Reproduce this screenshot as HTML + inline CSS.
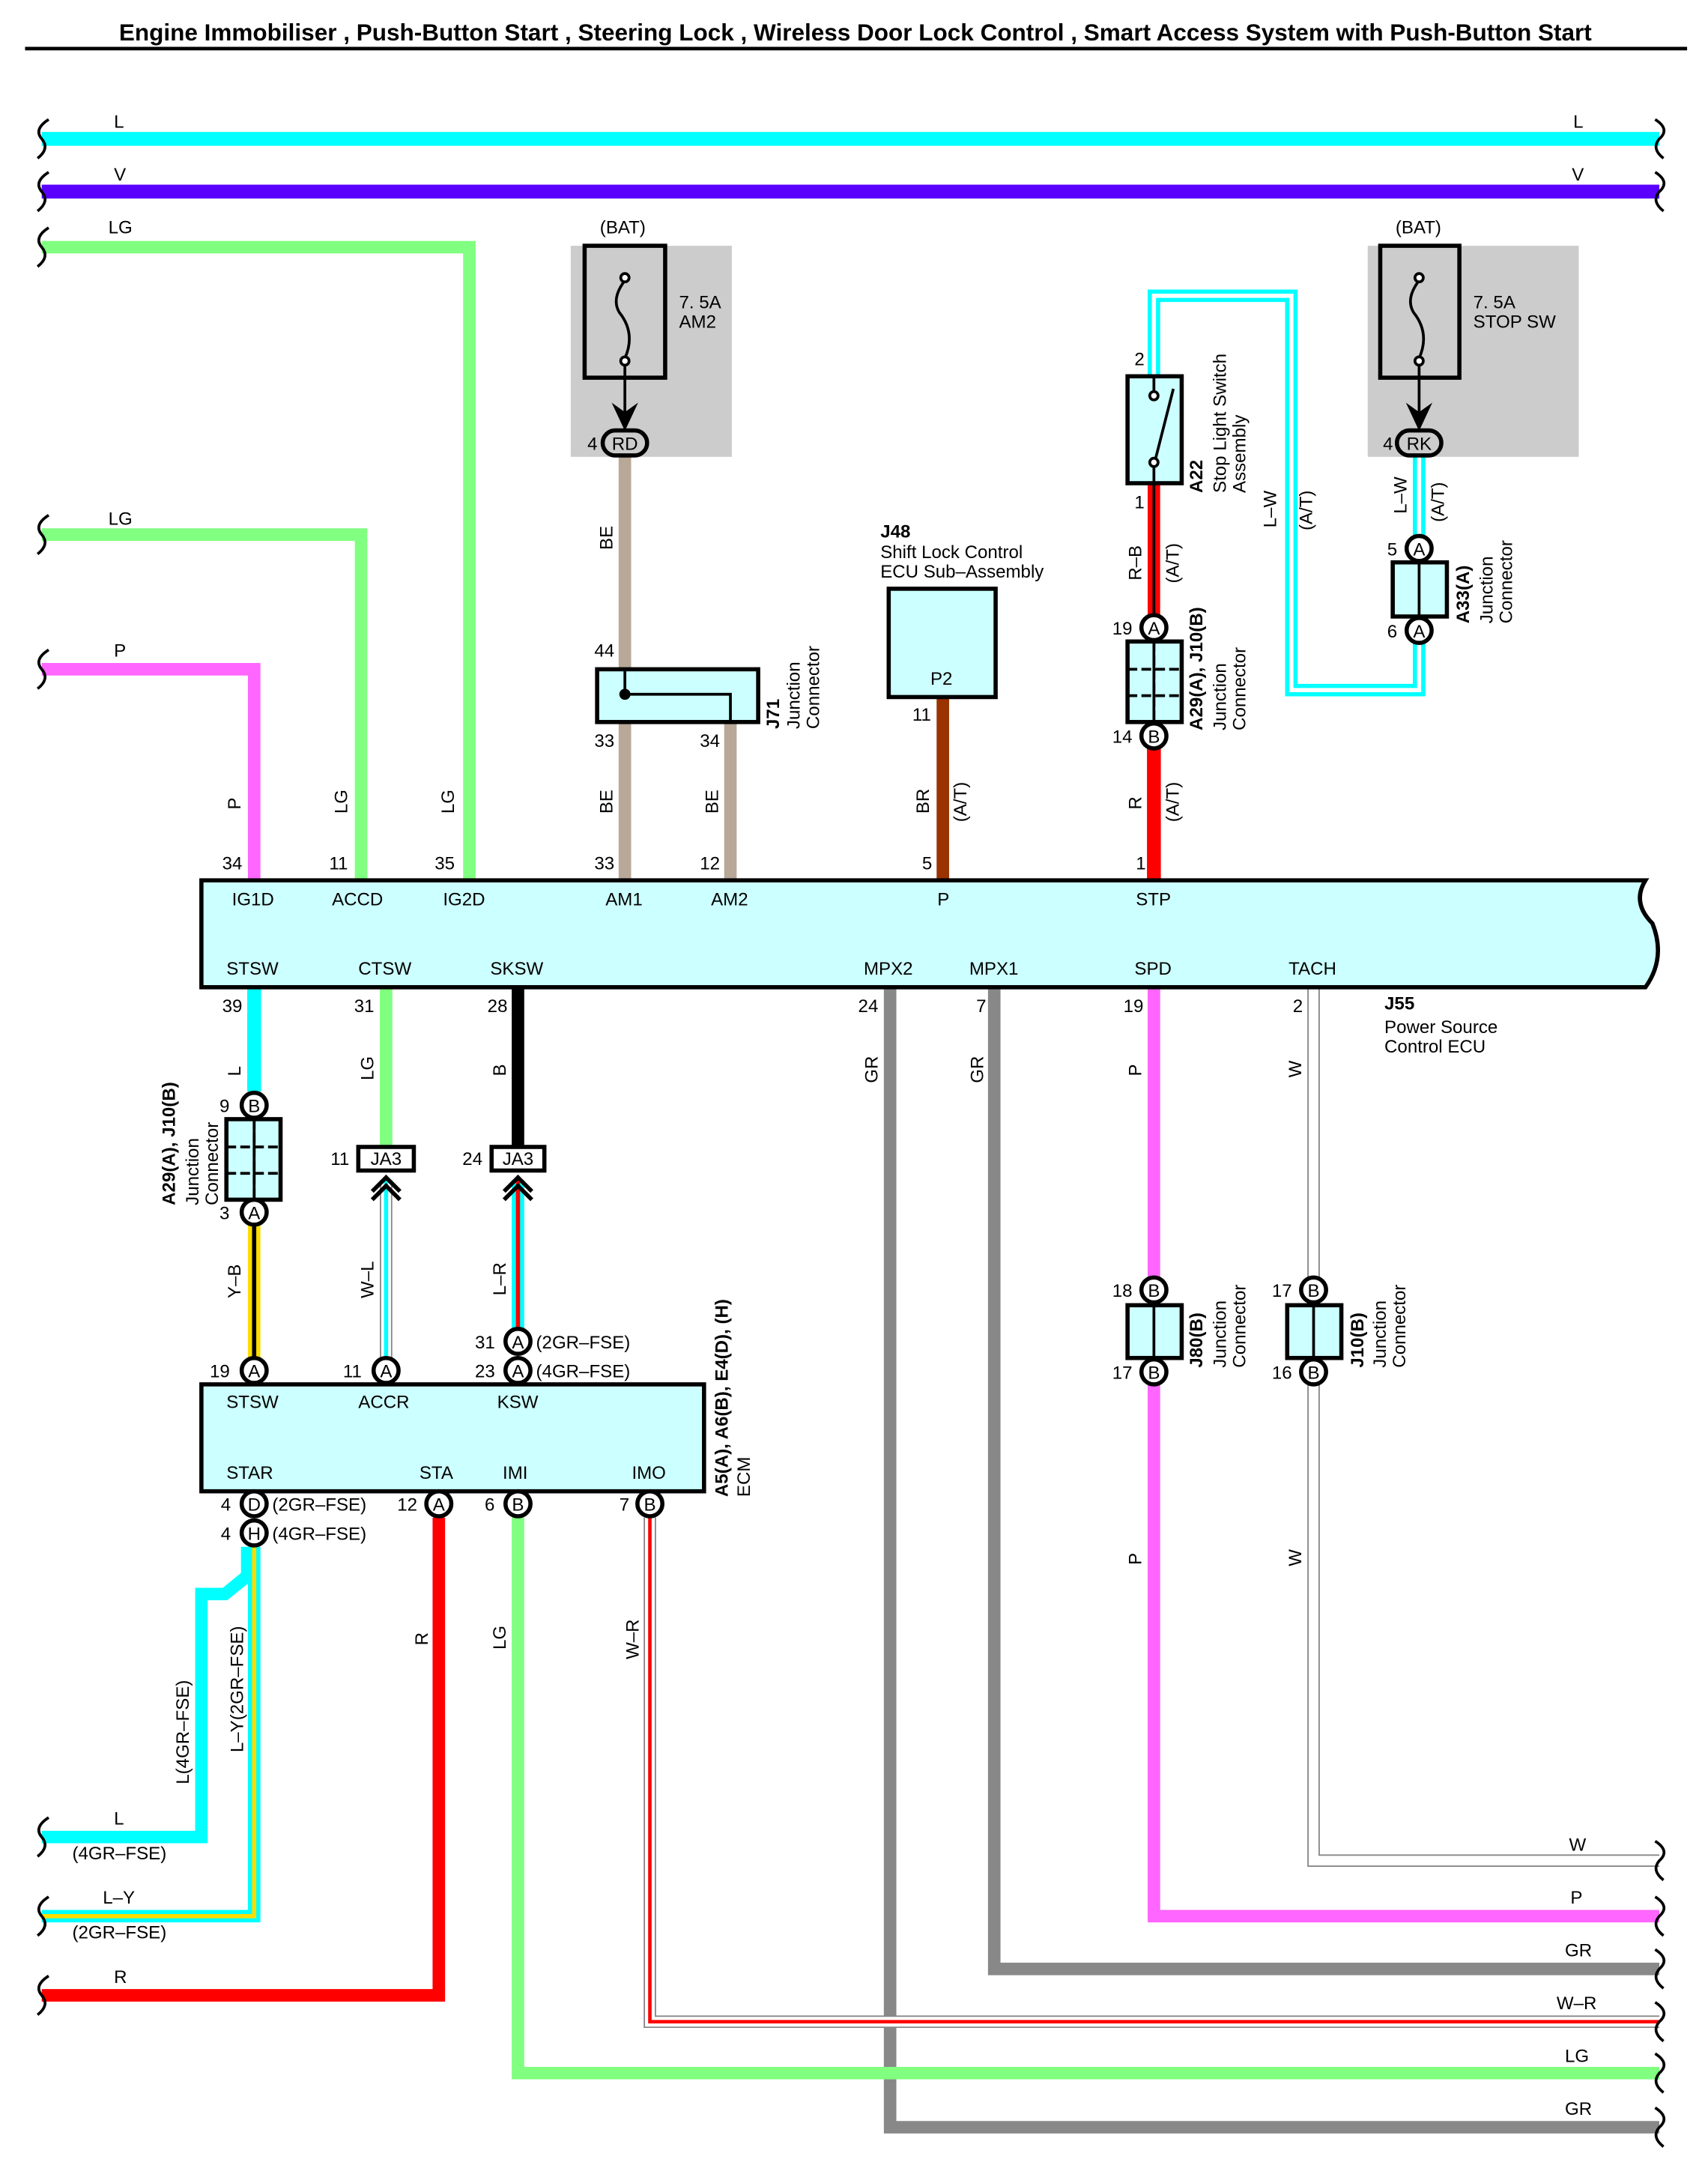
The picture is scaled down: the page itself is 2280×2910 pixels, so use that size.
<!DOCTYPE html>
<html><head><meta charset="utf-8"><style>
html,body{margin:0;padding:0;background:#fff}
svg{display:block}
text{font-family:"Liberation Sans",sans-serif;font-size:13px;fill:#000}
.b{font-weight:bold}
</style></head><body>
<svg width="2280" height="2910" viewBox="0 0 1230 1570" xmlns="http://www.w3.org/2000/svg">
<rect width="1230" height="1570" fill="#fff"/>
<text x="616" y="29" text-anchor="middle" class="b" style="font-size:17px">Engine Immobiliser , Push-Button Start , Steering Lock , Wireless Door Lock Control , Smart Access System with Push-Button Start</text>
<line x1="18" y1="35" x2="1215" y2="35" stroke="#000" stroke-width="2.5"/>

<!-- gray fuse backgrounds -->
<rect x="411" y="177" width="116" height="152" fill="#cccccc"/>
<rect x="985" y="177" width="152" height="152" fill="#cccccc"/>

<g fill="none" stroke-linejoin="miter">
<!-- top buses -->
<path d="M30 100H1195" stroke="#00ffff" stroke-width="10"/>
<path d="M30 138H1195" stroke="#5a00ff" stroke-width="10"/>
<path d="M30 178H338V634" stroke="#80ff80" stroke-width="9"/>
<path d="M30 385H260V634" stroke="#80ff80" stroke-width="9"/>
<path d="M30 482H183V634" stroke="#ff66ff" stroke-width="9"/>
<!-- BE wires -->
<path d="M450 329V634" stroke="#b8a898" stroke-width="9"/>
<path d="M526 520V634" stroke="#b8a898" stroke-width="9"/>
<!-- BR -->
<path d="M679 502V634" stroke="#993300" stroke-width="9"/>
<!-- R-B -->
<path d="M831 348V445" stroke="#ff0000" stroke-width="9"/>
<path d="M831 348V445" stroke="#000" stroke-width="2"/>
<path d="M831 538V634" stroke="#ff0000" stroke-width="10"/>
<!-- L-W loop -->
<path d="M831 271V213H930V497H1022V462" stroke="#00ffff" stroke-width="9"/>
<path d="M831 271V213H930V497H1022V462" stroke="#fff" stroke-width="3"/>
<path d="M1022 329V386" stroke="#00ffff" stroke-width="9"/>
<path d="M1022 329V386" stroke="#fff" stroke-width="3"/>

<!-- below ECU -->
<path d="M183 711V786" stroke="#00ffff" stroke-width="10"/>
<path d="M183 882V978" stroke="#ffdd00" stroke-width="9"/>
<path d="M183 882V978" stroke="#000" stroke-width="3"/>
<path d="M278 711V826" stroke="#80ff80" stroke-width="9"/>
<path d="M278 850V978" stroke="#888" stroke-width="9"/>
<path d="M278 850V978" stroke="#fff" stroke-width="7"/>
<path d="M278 850V978" stroke="#00ffff" stroke-width="3"/>
<path d="M373 711V826" stroke="#000" stroke-width="9"/>
<path d="M373 850V957" stroke="#00ffff" stroke-width="9"/>
<path d="M373 850V957" stroke="#ff0000" stroke-width="3"/>
<path d="M641 711V1532H1195" stroke="#888" stroke-width="9"/>
<path d="M716 711V1418H1195" stroke="#888" stroke-width="9"/>
<path d="M831 711V920" stroke="#ff66ff" stroke-width="9"/>
<path d="M831 997V1380H1195" stroke="#ff66ff" stroke-width="9"/>
<path d="M946 711V920" stroke="#888" stroke-width="9"/>
<path d="M946 711V920" stroke="#fff" stroke-width="7"/>
<path d="M946 997V1340H1195" stroke="#888" stroke-width="9"/>
<path d="M946 997V1340H1195" stroke="#fff" stroke-width="7"/>
<!-- ECM bottom wires -->
<path d="M316 1093V1437H30" stroke="#ff0000" stroke-width="9"/>
<path d="M373 1093V1493H1195" stroke="#80ff80" stroke-width="9"/>
<path d="M468 1093V1456H1195" stroke="#888" stroke-width="9"/>
<path d="M468 1093V1456H1195" stroke="#fff" stroke-width="7"/>
<path d="M468 1093V1456H1195" stroke="#ff0000" stroke-width="2.5"/>
<path d="M178 1114V1135L162 1148H145V1323H30" stroke="#00ffff" stroke-width="9"/>
<path d="M183 1114V1380H30" stroke="#00ffff" stroke-width="9"/>
<path d="M183 1114V1380H30" stroke="#ffdd00" stroke-width="3"/>
</g>

<!-- wire break markers -->
<g fill="none" stroke="#000" stroke-width="2">
<path d="M35 86Q24 93 30 100Q36 107 27 114"/>
<path d="M35 124Q24 131 30 138Q36 145 27 152"/>
<path d="M35 164Q24 171 30 178Q36 185 27 192"/>
<path d="M35 371Q24 378 30 385Q36 392 27 399"/>
<path d="M35 468Q24 475 30 482Q36 489 27 496"/>
<path d="M35 1309Q24 1316 30 1323Q36 1330 27 1337"/>
<path d="M35 1366Q24 1373 30 1380Q36 1387 27 1394"/>
<path d="M35 1423Q24 1430 30 1437Q36 1444 27 1451"/>
<path d="M1192 86Q1203 93 1195 100Q1189 107 1198 114"/>
<path d="M1192 124Q1203 131 1195 138Q1189 145 1198 152"/>
<path d="M1192 1326Q1203 1333 1195 1340Q1189 1347 1198 1354"/>
<path d="M1192 1366Q1203 1373 1195 1380Q1189 1387 1198 1394"/>
<path d="M1192 1404Q1203 1411 1195 1418Q1189 1425 1198 1432"/>
<path d="M1192 1442Q1203 1449 1195 1456Q1189 1463 1198 1470"/>
<path d="M1192 1479Q1203 1486 1195 1493Q1189 1500 1198 1507"/>
<path d="M1192 1518Q1203 1525 1195 1532Q1189 1539 1198 1546"/>
</g>

<!-- fuses -->
<g fill="none" stroke="#000" stroke-width="3">
<rect x="421" y="177" width="58" height="95"/>
<rect x="994" y="177" width="57" height="95"/>
</g>
<g fill="none" stroke="#000" stroke-width="2">
<path d="M450 202Q440 215 446 225Q458 240 450 258"/>
<circle cx="450" cy="200" r="3" fill="#fff"/><circle cx="450" cy="260" r="3" fill="#fff"/>
<path d="M450 263V300"/>
<path d="M1022 202Q1012 215 1018 225Q1030 240 1022 258"/>
<circle cx="1022" cy="200" r="3" fill="#fff"/><circle cx="1022" cy="260" r="3" fill="#fff"/>
<path d="M1022 263V300"/>
</g>
<path d="M443 293L450 308L457 293L450 298Z" fill="#000" stroke="#000" stroke-width="2"/>
<path d="M1015 293L1022 308L1029 293L1022 298Z" fill="#000" stroke="#000" stroke-width="2"/>
<rect x="434" y="310" width="32" height="18" rx="9" fill="#ccc" stroke="#000" stroke-width="3"/>
<text x="450" y="324" text-anchor="middle">RD</text>
<rect x="1006" y="310" width="32" height="18" rx="9" fill="#ccc" stroke="#000" stroke-width="3"/>
<text x="1022" y="324" text-anchor="middle">RK</text>

<!-- boxes -->
<g stroke="#000" stroke-width="3" fill="#ccffff">
<path d="M145 634H1185Q1175 650 1190 665Q1200 690 1185 711H145Z"/>
<rect x="145" y="997" width="362" height="77"/>
<rect x="430" y="482" width="116" height="38"/>
<rect x="640" y="424" width="77" height="78"/>
<rect x="812" y="271" width="39" height="77"/>
<rect x="812" y="462" width="39" height="58"/>
<rect x="1003" y="405" width="39" height="39"/>
<rect x="163" y="806" width="39" height="58"/>
<rect x="812" y="940" width="39" height="38"/>
<rect x="927" y="940" width="39" height="38"/>
</g>
<g stroke="#000" stroke-width="2" fill="none">
<path d="M450 500H526V520M450 482V500"/><circle cx="450" cy="500" r="3" fill="#000"/>
<path d="M831 462V520M812 482H851M812 501H851" stroke-dasharray="7 3"/>
<path d="M183 806V864M163 826H202M163 845H202" stroke-dasharray="7 3"/>
<path d="M831 462V520M183 806V864"/>
<path d="M1022 405V444M831 940V978M946 940V978"/>
<path d="M831 271V285M831 348V335M831 335L845 280"/>
<circle cx="831" cy="285" r="3" fill="#fff"/><circle cx="831" cy="333" r="3" fill="#fff"/>
</g>

<!-- JA3 boxes and chevrons -->
<g stroke="#000" stroke-width="3">
<rect x="258" y="826" width="40" height="17" fill="#fff"/>
<rect x="354" y="826" width="38" height="17" fill="#fff"/>
<path d="M268 858L278 848L288 858M268 864L278 854L288 864" fill="none"/>
<path d="M363 858L373 848L383 858M363 864L373 854L383 864" fill="none"/>
</g>
<text x="278" y="839" text-anchor="middle">JA3</text>
<text x="373" y="839" text-anchor="middle">JA3</text>

<!-- circle connectors -->
<g stroke="#000" stroke-width="3" fill="#fff">
<circle cx="831" cy="452" r="9"/><circle cx="831" cy="530" r="9"/>
<circle cx="1022" cy="395" r="9"/><circle cx="1022" cy="454" r="9"/>
<circle cx="183" cy="796" r="9"/><circle cx="183" cy="873" r="9"/>
<circle cx="183" cy="987" r="9"/><circle cx="278" cy="987" r="9"/>
<circle cx="373" cy="966" r="9"/><circle cx="373" cy="987" r="9"/>
<circle cx="831" cy="929" r="9"/><circle cx="831" cy="988" r="9"/>
<circle cx="946" cy="929" r="9"/><circle cx="946" cy="988" r="9"/>
<circle cx="183" cy="1083" r="9"/><circle cx="183" cy="1104" r="9"/>
<circle cx="316" cy="1083" r="9"/><circle cx="373" cy="1083" r="9"/><circle cx="468" cy="1083" r="9"/>
</g>
<g text-anchor="middle" style="font-size:12px">
<text x="831" y="457">A</text><text x="831" y="535">B</text>
<text x="1022" y="400">A</text><text x="1022" y="459">A</text>
<text x="183" y="801">B</text><text x="183" y="878">A</text>
<text x="183" y="992">A</text><text x="278" y="992">A</text>
<text x="373" y="971">A</text><text x="373" y="992">A</text>
<text x="831" y="934">B</text><text x="831" y="993">B</text>
<text x="946" y="934">B</text><text x="946" y="993">B</text>
<text x="183" y="1088">D</text><text x="183" y="1109">H</text>
<text x="316" y="1088">A</text><text x="373" y="1088">B</text><text x="468" y="1088">B</text>
</g>

<!-- plain labels -->
<text x="82" y="92">L</text><text x="1133" y="92">L</text>
<text x="82" y="130">V</text><text x="1132" y="130">V</text>
<text x="78" y="168">LG</text><text x="78" y="378">LG</text><text x="82" y="473">P</text>
<text x="432" y="168">(BAT)</text><text x="1005" y="168">(BAT)</text>
<text x="489" y="222">7. 5A</text><text x="489" y="236">AM2</text>
<text x="1061" y="222">7. 5A</text><text x="1061" y="236">STOP SW</text>
<text x="423" y="324">4</text><text x="996" y="324">4</text>
<text x="634" y="387" class="b">J48</text>
<text x="634" y="402">Shift Lock Control</text>
<text x="634" y="416">ECU Sub–Assembly</text>
<text x="670" y="493">P2</text>
<text x="657" y="519">11</text>
<text x="428" y="473">44</text>
<text x="428" y="538">33</text><text x="504" y="538">34</text>
<text x="817" y="263">2</text><text x="817" y="366">1</text>
<text x="801" y="457">19</text><text x="801" y="535">14</text>
<text x="999" y="400">5</text><text x="999" y="459">6</text>
<g>
<text x="160" y="626">34</text><text x="237" y="626">11</text><text x="313" y="626">35</text>
<text x="428" y="626">33</text><text x="504" y="626">12</text><text x="664" y="626">5</text><text x="818" y="626">1</text>
<text x="167" y="652">IG1D</text><text x="239" y="652">ACCD</text><text x="319" y="652">IG2D</text>
<text x="436" y="652">AM1</text><text x="512" y="652">AM2</text><text x="675" y="652">P</text><text x="818" y="652">STP</text>
<text x="163" y="702">STSW</text><text x="258" y="702">CTSW</text><text x="353" y="702">SKSW</text>
<text x="622" y="702">MPX2</text><text x="698" y="702">MPX1</text><text x="817" y="702">SPD</text><text x="928" y="702">TACH</text>
<text x="160" y="729">39</text><text x="255" y="729">31</text><text x="351" y="729">28</text>
<text x="618" y="729">24</text><text x="703" y="729">7</text><text x="809" y="729">19</text><text x="931" y="729">2</text>
</g>
<text x="997" y="727" class="b">J55</text>
<text x="997" y="744">Power Source</text>
<text x="997" y="758">Control ECU</text>
<text x="158" y="801">9</text><text x="158" y="878">3</text>
<text x="238" y="839">11</text><text x="333" y="839">24</text>
<text x="151" y="992">19</text><text x="247" y="992">11</text>
<text x="342" y="971">31</text><text x="342" y="992">23</text>
<text x="386" y="971">(2GR–FSE)</text><text x="386" y="992">(4GR–FSE)</text>
<text x="801" y="934">18</text><text x="801" y="993">17</text>
<text x="916" y="934">17</text><text x="916" y="993">16</text>
<text x="163" y="1014">STSW</text><text x="258" y="1014">ACCR</text><text x="358" y="1014">KSW</text>
<text x="163" y="1065">STAR</text><text x="302" y="1065">STA</text><text x="362" y="1065">IMI</text><text x="455" y="1065">IMO</text>
<text x="159" y="1088">4</text><text x="159" y="1109">4</text>
<text x="196" y="1088">(2GR–FSE)</text><text x="196" y="1109">(4GR–FSE)</text>
<text x="286" y="1088">12</text><text x="349" y="1088">6</text><text x="446" y="1088">7</text>
<text x="82" y="1314">L</text><text x="52" y="1339">(4GR–FSE)</text>
<text x="74" y="1371">L–Y</text><text x="52" y="1396">(2GR–FSE)</text>
<text x="82" y="1428">R</text>
<text x="1130" y="1333">W</text><text x="1131" y="1371">P</text><text x="1127" y="1409">GR</text>
<text x="1121" y="1447">W–R</text><text x="1127" y="1485">LG</text><text x="1127" y="1523">GR</text>

<!-- rotated labels -->
<g>
<text transform="translate(173,583) rotate(-90)">P</text>
<text transform="translate(250,586) rotate(-90)">LG</text>
<text transform="translate(327,586) rotate(-90)">LG</text>
<text transform="translate(441,396) rotate(-90)">BE</text>
<text transform="translate(441,586) rotate(-90)">BE</text>
<text transform="translate(517,586) rotate(-90)">BE</text>
<text transform="translate(669,586) rotate(-90)">BR</text>
<text transform="translate(696,592) rotate(-90)">(A/T)</text>
<text transform="translate(822,583) rotate(-90)">R</text>
<text transform="translate(849,592) rotate(-90)">(A/T)</text>
<text transform="translate(822,418) rotate(-90)">R–B</text>
<text transform="translate(849,420) rotate(-90)">(A/T)</text>
<text transform="translate(919,380) rotate(-90)">L–W</text>
<text transform="translate(945,382) rotate(-90)">(A/T)</text>
<text transform="translate(1013,370) rotate(-90)">L–W</text>
<text transform="translate(1040,376) rotate(-90)">(A/T)</text>
<text transform="translate(173,775) rotate(-90)">L</text>
<text transform="translate(269,778) rotate(-90)">LG</text>
<text transform="translate(364,775) rotate(-90)">B</text>
<text transform="translate(173,935) rotate(-90)">Y–B</text>
<text transform="translate(269,935) rotate(-90)">W–L</text>
<text transform="translate(364,933) rotate(-90)">L–R</text>
<text transform="translate(632,780) rotate(-90)">GR</text>
<text transform="translate(708,780) rotate(-90)">GR</text>
<text transform="translate(822,775) rotate(-90)">P</text>
<text transform="translate(937,776) rotate(-90)">W</text>
<text transform="translate(822,1127) rotate(-90)">P</text>
<text transform="translate(937,1128) rotate(-90)">W</text>
<text transform="translate(308,1185) rotate(-90)">R</text>
<text transform="translate(364,1188) rotate(-90)">LG</text>
<text transform="translate(460,1195) rotate(-90)">W–R</text>
<text transform="translate(136,1285) rotate(-90)">L(4GR–FSE)</text>
<text transform="translate(175,1262) rotate(-90)">L–Y(2GR–FSE)</text>
<text transform="translate(561,525) rotate(-90)" class="b">J71</text>
<text transform="translate(576,525) rotate(-90)">Junction</text>
<text transform="translate(590,525) rotate(-90)">Connector</text>
<text transform="translate(866,355) rotate(-90)" class="b">A22</text>
<text transform="translate(883,355) rotate(-90)">Stop Light Switch</text>
<text transform="translate(897,355) rotate(-90)">Assembly</text>
<text transform="translate(866,526) rotate(-90)" class="b">A29(A), J10(B)</text>
<text transform="translate(883,526) rotate(-90)">Junction</text>
<text transform="translate(897,526) rotate(-90)">Connector</text>
<text transform="translate(1058,449) rotate(-90)" class="b">A33(A)</text>
<text transform="translate(1075,449) rotate(-90)">Junction</text>
<text transform="translate(1089,449) rotate(-90)">Connector</text>
<text transform="translate(126,868) rotate(-90)" class="b">A29(A), J10(B)</text>
<text transform="translate(143,868) rotate(-90)">Junction</text>
<text transform="translate(157,868) rotate(-90)">Connector</text>
<text transform="translate(866,985) rotate(-90)" class="b">J80(B)</text>
<text transform="translate(883,985) rotate(-90)">Junction</text>
<text transform="translate(897,985) rotate(-90)">Connector</text>
<text transform="translate(982,985) rotate(-90)" class="b">J10(B)</text>
<text transform="translate(998,985) rotate(-90)">Junction</text>
<text transform="translate(1012,985) rotate(-90)">Connector</text>
<text transform="translate(524,1078) rotate(-90)" class="b">A5(A), A6(B), E4(D), (H)</text>
<text transform="translate(540,1078) rotate(-90)">ECM</text>
</g>
</svg>
</body></html>
